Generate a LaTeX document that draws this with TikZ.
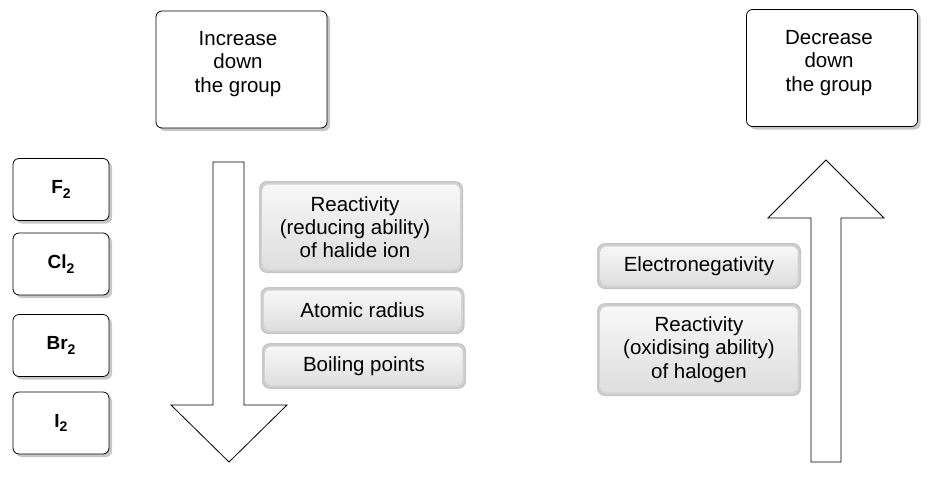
\documentclass[tikz,border=0pt]{standalone}
\usepackage{fontspec}
\setmainfont{Liberation Sans}
\usetikzlibrary{shadows}
\begin{document}
\begin{tikzpicture}[x=1pt,y=-1pt,
  txt/.style={font=\fontsize{20.5}{23.3}\selectfont, align=center, inner sep=0pt},
  wbox/.style={draw=black, line width=0.8pt, fill=white, rounded corners=6pt, inner sep=0pt,
     drop shadow={shadow xshift=3pt, shadow yshift=-3pt, fill=gray!55, opacity=0.8}},
  elem/.style={wbox, minimum width=96pt, minimum height=62pt,
     font=\fontsize{19}{22}\selectfont\bfseries},
  topbox/.style={wbox, minimum width=171pt, minimum height=117pt},
  gbox/.style={txt, minimum width=204pt, draw=none, fill=gray!45, rounded corners=8pt,
     path picture={
       \fill[gray!36, rounded corners=7pt]
         ([shift={(1.5pt,1.5pt)}]path picture bounding box.south west) rectangle
         ([shift={(-1.5pt,-1.5pt)}]path picture bounding box.north east);
       \shade[top color=gray!6, bottom color=gray!26, rounded corners=6pt]
         ([shift={(3.5pt,3.5pt)}]path picture bounding box.south west) rectangle
         ([shift={(-3.5pt,-3.5pt)}]path picture bounding box.north east);
     }},
  bigarrow/.style={draw=black, line width=0.8pt, fill=white, line join=miter}
]
\useasboundingbox (0,0) rectangle (931,477);

% element boxes
\newcommand{\sub}[1]{\raisebox{-4.5pt}{\fontsize{14}{14}\selectfont #1}}
\node[elem] (f2)  at (61,189.5) {F\sub{2}};
\node[elem] (cl2) at (61,264)   {Cl\sub{2}};
\node[elem] (br2) at (61,345.5) {Br\sub{2}};
\node[elem] (i2)  at (61,423)   {I\sub{2}};

% top boxes
\node[topbox] (inc) at (241.5,69.5) {};
\node[txt] (inctxt) at (238,64) {Increase\\down\\the group};
\node[topbox] (dec) at (832,68) {};
\node[txt] (dectxt) at (829,63) {Decrease\\down\\the group};

% arrows
\draw[bigarrow] (213,162) -- (244,162) -- (244,405) -- (287,405) -- (229,462)
   -- (171,405) -- (213,405) -- cycle;
\draw[bigarrow] (811,462) -- (841,462) -- (841,218) -- (884,218) -- (826,160)
   -- (768,218) -- (811,218) -- cycle;

% grey property boxes
\node[gbox, minimum height=92pt] (red) at (361,227)
   {\hspace*{-12pt}Reactivity\\\hspace*{-12pt}(reducing ability)\\\hspace*{-12pt}of halide ion};
\node[gbox, minimum height=47pt] (rad) at (362.5,310.5) {Atomic radius};
\node[gbox, minimum height=46pt] (bp)  at (364,366) {Boiling points};
\node[gbox, minimum height=46pt] (en)  at (699,266) {Electronegativity};
\node[gbox, minimum height=93pt] (ox)  at (699,349.5)
   {Reactivity\\(oxidising ability)\\of halogen};
\end{tikzpicture}
\end{document}
